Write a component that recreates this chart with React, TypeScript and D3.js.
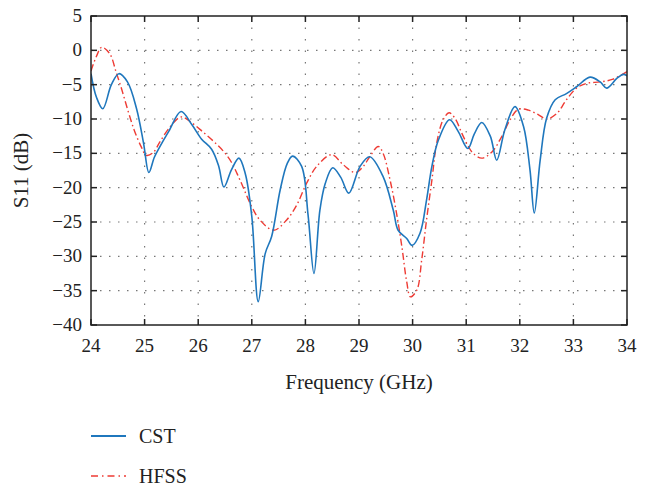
import * as d3 from "d3";

// frequency sweep in GHz, S11 in dB
const cstFreq = [
  24.0, 24.1, 24.22, 24.38, 24.52, 24.68, 24.85, 24.98, 25.08, 25.18, 25.28, 25.45,
  25.68, 25.88, 26.06, 26.25, 26.38, 26.48, 26.62, 26.76, 26.88, 27.0, 27.12, 27.25,
  27.37, 27.53, 27.66, 27.76, 27.93, 28.05, 28.16, 28.27, 28.37, 28.51, 28.66, 28.81,
  29.02, 29.2, 29.45, 29.64, 29.73, 29.89, 29.99, 30.14, 30.26, 30.36, 30.48, 30.69,
  30.85, 31.03, 31.15, 31.29, 31.45, 31.57, 31.72, 31.91, 32.07, 32.19, 32.27, 32.38,
  32.5, 32.66, 32.87, 33.06, 33.31, 33.5, 33.62, 33.81, 33.93, 34.0,
];
const cstS11 = [
  -3.4, -6.8, -8.5, -5.0, -3.4, -4.6, -8.5, -13.5, -17.8, -15.6, -14.1, -11.8,
  -8.9, -10.8, -12.9, -14.4, -16.8, -19.9, -17.4, -15.7, -18.0, -24.2, -36.6, -29.6,
  -27.1, -20.3, -16.5, -15.4, -16.9, -24.0, -32.5, -23.3, -19.4, -17.1, -18.5, -20.8,
  -16.9, -15.5, -18.4, -23.3, -26.2, -27.4, -28.4, -26.6, -21.8, -16.9, -13.1, -10.1,
  -11.8, -14.3, -12.2, -10.5, -12.5, -16.0, -11.6, -8.2, -11.1, -17.4, -23.7, -16.0,
  -9.9, -7.2, -6.3, -5.3, -3.9, -4.6, -5.5, -4.1, -3.5, -3.7,
];

const hfssFreq = [
  24.0, 24.1, 24.2, 24.35, 24.47, 24.57, 24.69, 24.81, 24.94, 25.03, 25.16, 25.28,
  25.47, 25.68, 25.87, 26.09, 26.28, 26.46, 26.62, 26.78, 27.0, 27.15, 27.41, 27.65,
  27.84, 28.02, 28.21, 28.49, 28.71, 28.93, 29.08, 29.2, 29.36, 29.45, 29.58, 29.7,
  29.8, 29.89, 29.96, 30.08, 30.17, 30.26, 30.36, 30.45, 30.57, 30.68, 30.79, 30.92,
  31.04, 31.13, 31.29, 31.48, 31.66, 31.82, 31.97, 32.16, 32.35, 32.5, 32.69, 32.87,
  33.06, 33.25, 33.5, 33.74, 34.0,
];
const hfssS11 = [
  -3.0, -0.9, 0.45, -0.5, -3.2, -5.6, -8.8, -11.7, -14.1, -15.3, -14.9, -13.4,
  -11.2, -9.7, -10.5, -11.9, -13.2, -14.6, -16.3, -18.9, -22.8, -24.7, -26.2, -24.7,
  -22.5, -19.4, -16.9, -15.2, -16.7, -17.8, -16.9, -15.5, -14.0, -15.0, -18.9, -23.7,
  -28.6, -33.7, -35.9, -34.9, -30.5, -24.7, -18.9, -13.5, -10.1, -9.1, -9.9, -12.1,
  -14.0, -15.0, -15.7, -14.8, -12.6, -10.1, -8.6, -8.7, -9.4, -10.0, -9.2, -7.2,
  -5.5, -4.8, -4.6, -4.2, -3.1,
];

const xTicks = [24, 25, 26, 27, 28, 29, 30, 31, 32, 33, 34];
const yTicks = [5, 0, -5, -10, -15, -20, -25, -30, -35, -40];

const W = 653;
const H = 487;
const left = 91, right = 627, top = 16, bottom = 325;
const serif = "'Liberation Serif', 'Times New Roman', serif";
const blue = "#1f77bd";
const red = "#ee3b34";

export default function App() {
  const x = d3.scaleLinear().domain([24, 34]).range([left, right]);
  const y = d3.scaleLinear().domain([-40, 5]).range([bottom, top]);

  const line = d3
    .line<[number, number]>()
    .x((d) => x(d[0]))
    .y((d) => y(d[1]))
    .curve(d3.curveCatmullRom.alpha(0.5));

  const cst = line(cstFreq.map((f, i) => [f, cstS11[i]] as [number, number])) || "";
  const hfss = line(hfssFreq.map((f, i) => [f, hfssS11[i]] as [number, number])) || "";

  const tick = 6;

  return (
    <svg
      width={W}
      height={H}
      style={{ position: "absolute", left: 0, top: 0, background: "#fff" }}
    >
      <defs>
        <clipPath id="plot">
          <rect x={left} y={top} width={right - left} height={bottom - top} />
        </clipPath>
      </defs>

      {/* grid */}
      <g stroke="#777" strokeWidth={1.2}>
        {xTicks.slice(1, -1).map((t) => (
          <line key={"gx" + t} x1={x(t)} x2={x(t)} y1={top} y2={bottom} strokeDasharray="1.5,10" />
        ))}
        {yTicks.slice(1, -1).map((t) => (
          <line key={"gy" + t} x1={left} x2={right} y1={y(t)} y2={y(t)} strokeDasharray="1.5,7.5" />
        ))}
      </g>

      {/* curves */}
      <g clipPath="url(#plot)" fill="none">
        <path d={hfss} stroke={red} strokeWidth={1.4} strokeDasharray="7,3,1.5,3" />
        <path d={cst} stroke={blue} strokeWidth={1.6} />
      </g>

      {/* frame and ticks */}
      <g stroke="#222" strokeWidth={1.5}>
        <rect x={left} y={top} width={right - left} height={bottom - top} fill="none" />
        {xTicks.map((t) => (
          <g key={"tx" + t}>
            <line x1={x(t)} x2={x(t)} y1={bottom} y2={bottom - tick} />
            <line x1={x(t)} x2={x(t)} y1={top} y2={top + tick} />
          </g>
        ))}
        {yTicks.map((t) => (
          <g key={"ty" + t}>
            <line x1={left} x2={left + tick} y1={y(t)} y2={y(t)} />
            <line x1={right} x2={right - tick} y1={y(t)} y2={y(t)} />
          </g>
        ))}
      </g>

      {/* tick labels */}
      <g fontFamily={serif} fontSize={19} fill="#222">
        {xTicks.map((t) => (
          <text key={"lx" + t} x={x(t)} y={352} textAnchor="middle">
            {t}
          </text>
        ))}
        {yTicks.map((t) => (
          <text key={"ly" + t} x={82} y={y(t) + 6} textAnchor="end">
            {t < 0 ? "\u2212" + Math.abs(t) : t}
          </text>
        ))}
      </g>

      {/* axis titles */}
      <g fontFamily={serif} fontSize={21} fill="#222">
        <text x={(left + right) / 2} y={389} textAnchor="middle">
          Frequency (GHz)
        </text>
        <text transform={`translate(28, ${(top + bottom) / 2}) rotate(-90)`} textAnchor="middle">
          S11 (dB)
        </text>
      </g>

      {/* legend */}
      <g fontFamily={serif} fontSize={20} fill="#222">
        <line x1={91} x2={126} y1={436} y2={436} stroke={blue} strokeWidth={1.8} />
        <text x={139} y={443}>CST</text>
        <line x1={91} x2={126} y1={476} y2={476} stroke={red} strokeWidth={1.4} strokeDasharray="7,4,1.5,4" />
        <text x={139} y={483}>HFSS</text>
      </g>
    </svg>
  );
}
